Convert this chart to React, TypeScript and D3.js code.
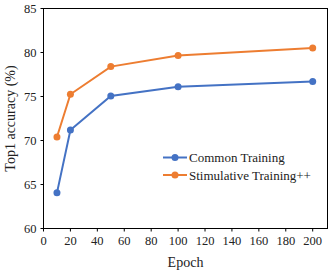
import * as d3 from "d3";

const epochs = [10, 20, 50, 100, 200];
const commonTraining = [64.05, 71.2, 75.05, 76.1, 76.7];
const stimulativeTraining = [70.4, 75.25, 78.4, 79.65, 80.5];
const seriesNames = ["Common Training", "Stimulative Training++"];
const xTicks = [0, 20, 40, 60, 80, 100, 120, 140, 160, 180, 200];
const yTicks = [60, 65, 70, 75, 80, 85];

const W = 332;
const H = 272;
const m = { top: 8.5, right: 4.5, bottom: 43.5, left: 43.5 };
const font = "'Liberation Serif', 'Times New Roman', serif";
const colors = ["#4472C4", "#ED7D31"];

export default function App() {
  const x = d3.scaleLinear().domain([0, 211]).range([m.left, W - m.right]);
  const y = d3.scaleLinear().domain([60, 85]).range([H - m.bottom, m.top]);
  const line = d3.line<number>().x((_, i) => x(epochs[i])).y((d) => y(d));
  const series = [commonTraining, stimulativeTraining];

  return (
    <svg width={W} height={H} style={{ position: "absolute", left: 0, top: 0, background: "#fff" }} fontFamily={font}>
      <rect x={m.left} y={m.top} width={W - m.left - m.right} height={H - m.top - m.bottom} fill="none" stroke="#000" strokeWidth={1} />
      {yTicks.map((t) => (
        <g key={t}>
          <line x1={m.left - 3} x2={m.left} y1={y(t)} y2={y(t)} stroke="#000" />
          <text x={m.left - 7} y={y(t)} dy="0.35em" textAnchor="end" fontSize={12.5} fill="#222">{t}</text>
        </g>
      ))}
      {xTicks.map((t) => (
        <g key={t}>
          <line x1={x(t)} x2={x(t)} y1={H - m.bottom} y2={H - m.bottom + 3} stroke="#000" />
          <text x={x(t)} y={H - m.bottom + 12} dy="0.35em" textAnchor="middle" fontSize={12.5} fill="#222">{t}</text>
        </g>
      ))}
      <text x={(m.left + W - m.right) / 2} y={262} dy="0.35em" textAnchor="middle" fontSize={14} fill="#222">Epoch</text>
      <text transform={`translate(10,${(m.top + H - m.bottom) / 2}) rotate(-90)`} dy="0.35em" textAnchor="middle" fontSize={14} fill="#222">Top1 accuracy (%)</text>
      {series.map((s, k) => (
        <g key={k}>
          <path d={line(s) ?? ""} fill="none" stroke={colors[k]} strokeWidth={2} />
          {s.map((v, i) => (
            <circle key={i} cx={x(epochs[i])} cy={y(v)} r={3.5} fill={colors[k]} />
          ))}
        </g>
      ))}
      {seriesNames.map((name, k) => {
        const ly = 157.5 + k * 17.5;
        return (
          <g key={name}>
            <line x1={163} x2={187} y1={ly} y2={ly} stroke={colors[k]} strokeWidth={2} />
            <circle cx={175} cy={ly} r={3.5} fill={colors[k]} />
            <text x={189} y={ly} dy="0.35em" fontSize={13} fill="#222">{name}</text>
          </g>
        );
      })}
    </svg>
  );
}
